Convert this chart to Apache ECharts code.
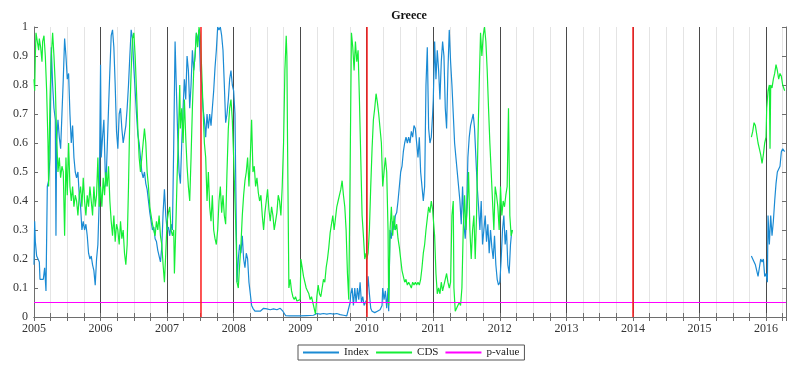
<!DOCTYPE html>
<html>
<head>
<meta charset="utf-8">
<script src="https://cdn.jsdelivr.net/npm/echarts@6/dist/echarts.min.js"></script>
<style>
  html, body { margin: 0; padding: 0; background: #fff; }
  #chart { width: 787px; height: 370px; }
</style>
</head>
<body>
<div id="chart"></div>
<script>
// ---- chart text ----
const chartTitle = 'Greece';
const seriesNames = ['Index', 'CDS', 'p-value'];

// ---- reference levels ----
const pValueLevel = 0.05;
const eventYears = [2007.5, 2010, 2014];
const xStart = 2005;
const xEnd = 2016.3;

// ---- Index p-values, [decimal year, value] ----
const index2005 = [[2005.00,0.18],[2005.01,0.33],[2005.02,0.26],[2005.04,0.21],[2005.06,0.2],[2005.08,0.19],[2005.09,0.13],[2005.12,0.13],[2005.14,0.13],[2005.16,0.17],[2005.18,0.09],[2005.20,0.45],[2005.22,0.47],[2005.24,0.55],[2005.26,0.93],[2005.28,0.8],[2005.30,0.72],[2005.32,0.68],[2005.33,0.28],[2005.34,0.6],[2005.36,0.68],[2005.38,0.62],[2005.40,0.58],[2005.42,0.7],[2005.44,0.82],[2005.46,0.96],[2005.48,0.9],[2005.50,0.82],[2005.52,0.84],[2005.54,0.7],[2005.56,0.6],[2005.58,0.66],[2005.60,0.55],[2005.62,0.5],[2005.64,0.48],[2005.66,0.5],[2005.68,0.42],[2005.70,0.38],[2005.72,0.3],[2005.74,0.33],[2005.76,0.3],[2005.78,0.32],[2005.80,0.28],[2005.82,0.22],[2005.84,0.2],[2005.86,0.21],[2005.88,0.18],[2005.90,0.16],[2005.92,0.11],[2005.94,0.2],[2005.96,0.25],[2005.98,0.4]];
const index2006 = [[2006.00,0.87],[2006.01,0.55],[2006.03,0.62],[2006.05,0.68],[2006.07,0.5],[2006.08,0.45],[2006.10,0.58],[2006.12,0.72],[2006.14,0.85],[2006.16,0.97],[2006.18,0.99],[2006.20,0.93],[2006.22,0.8],[2006.24,0.64],[2006.26,0.58],[2006.28,0.7],[2006.30,0.72],[2006.32,0.65],[2006.34,0.6],[2006.36,0.6],[2006.38,0.66],[2006.40,0.72],[2006.42,0.8],[2006.44,0.9],[2006.46,0.99],[2006.48,0.96],[2006.50,0.86],[2006.52,0.78],[2006.54,0.7],[2006.56,0.63],[2006.58,0.6],[2006.60,0.55],[2006.62,0.5],[2006.64,0.48],[2006.66,0.5],[2006.68,0.46],[2006.70,0.44],[2006.72,0.4],[2006.74,0.36],[2006.76,0.33],[2006.78,0.3],[2006.80,0.31],[2006.82,0.27],[2006.84,0.26],[2006.86,0.23],[2006.88,0.21],[2006.90,0.19],[2006.92,0.24],[2006.94,0.36],[2006.96,0.44],[2006.98,0.35]];
const index2007 = [[2007.00,0.3],[2007.02,0.31],[2007.04,0.28],[2007.06,0.32],[2007.08,0.3],[2007.10,0.6],[2007.12,0.95],[2007.14,0.78],[2007.16,0.62],[2007.18,0.5],[2007.20,0.46],[2007.22,0.6],[2007.24,0.72],[2007.26,0.82],[2007.28,0.75],[2007.30,0.9],[2007.32,0.85],[2007.34,0.72],[2007.36,0.8],[2007.38,0.92],[2007.40,0.85],[2007.42,0.9],[2007.44,0.98],[2007.46,0.95],[2007.48,0.99],[2007.50,0.85],[2007.52,0.8],[2007.54,0.72],[2007.56,0.68],[2007.58,0.62],[2007.60,0.7],[2007.62,0.65],[2007.64,0.7],[2007.66,0.66],[2007.68,0.72],[2007.70,0.78],[2007.72,0.86],[2007.74,0.92],[2007.76,1.0],[2007.78,0.99],[2007.80,1.0],[2007.82,0.97],[2007.84,0.92],[2007.86,0.8],[2007.88,0.67],[2007.90,0.7],[2007.92,0.75],[2007.94,0.82],[2007.96,0.85],[2007.98,0.8]];
const index2008 = [[2008.00,0.78],[2008.02,0.7],[2008.03,0.5],[2008.05,0.12],[2008.07,0.2],[2008.09,0.25],[2008.11,0.22],[2008.13,0.28],[2008.15,0.2],[2008.17,0.17],[2008.19,0.22],[2008.21,0.2],[2008.23,0.12],[2008.25,0.08],[2008.27,0.04],[2008.29,0.03],[2008.32,0.02],[2008.35,0.025],[2008.40,0.02],[2008.45,0.03],[2008.50,0.028],[2008.55,0.025],[2008.60,0.028],[2008.65,0.025],[2008.70,0.03],[2008.74,0.02],[2008.78,0.005],[2008.85,0.004],[2008.92,0.004]];
const index2009 = [[2009.00,0.004],[2009.10,0.005],[2009.20,0.006],[2009.25,0.012],[2009.30,0.01],[2009.35,0.012],[2009.40,0.01],[2009.45,0.012],[2009.50,0.01],[2009.55,0.012],[2009.60,0.008],[2009.65,0.006],[2009.70,0.004],[2009.73,0.003],[2009.75,0.05],[2009.76,0.08],[2009.78,0.1],[2009.80,0.04],[2009.82,0.1],[2009.84,0.05],[2009.86,0.1],[2009.88,0.06],[2009.90,0.12],[2009.92,0.05],[2009.94,0.07],[2009.96,0.04],[2009.98,0.05]];
const index2010 = [[2010.00,0.06],[2010.02,0.14],[2010.04,0.08],[2010.06,0.03],[2010.08,0.02],[2010.12,0.015],[2010.16,0.02],[2010.20,0.025],[2010.23,0.04],[2010.24,0.1],[2010.26,0.06],[2010.28,0.09],[2010.30,0.03],[2010.32,0.1],[2010.33,0.02],[2010.35,0.3],[2010.37,0.27],[2010.39,0.33],[2010.41,0.3],[2010.43,0.35],[2010.45,0.36],[2010.47,0.4],[2010.49,0.45],[2010.51,0.5],[2010.53,0.52],[2010.55,0.57],[2010.57,0.6],[2010.59,0.62],[2010.61,0.6],[2010.63,0.62],[2010.65,0.6],[2010.67,0.64],[2010.69,0.62],[2010.71,0.66],[2010.73,0.65],[2010.75,0.6],[2010.77,0.55],[2010.79,0.62],[2010.81,0.5],[2010.83,0.45],[2010.85,0.4],[2010.87,0.45],[2010.89,0.8],[2010.91,0.93],[2010.93,0.65],[2010.95,0.6],[2010.97,0.62],[2010.99,0.7]];
const index2011 = [[2011.00,0.75],[2011.02,0.95],[2011.04,0.82],[2011.06,0.92],[2011.08,0.85],[2011.10,0.75],[2011.12,0.88],[2011.14,0.95],[2011.16,0.9],[2011.18,0.72],[2011.20,0.65],[2011.22,0.85],[2011.24,0.99],[2011.26,0.88],[2011.28,0.8],[2011.30,0.7],[2011.32,0.6],[2011.34,0.55],[2011.36,0.5],[2011.38,0.45],[2011.40,0.4],[2011.42,0.32],[2011.44,0.45],[2011.46,0.32],[2011.48,0.27],[2011.50,0.35],[2011.52,0.55],[2011.54,0.62],[2011.56,0.66],[2011.58,0.68],[2011.60,0.7],[2011.62,0.65],[2011.64,0.55],[2011.66,0.45],[2011.68,0.38],[2011.70,0.3],[2011.72,0.4],[2011.74,0.25],[2011.76,0.3],[2011.78,0.35],[2011.80,0.26],[2011.82,0.32],[2011.84,0.22],[2011.86,0.3],[2011.88,0.24],[2011.90,0.2],[2011.92,0.28],[2011.94,0.18],[2011.96,0.13],[2011.98,0.11]];
const index2012 = [[2012.00,0.12],[2012.02,0.2],[2012.04,0.3],[2012.06,0.35],[2012.08,0.25],[2012.10,0.3],[2012.12,0.18],[2012.14,0.15],[2012.16,0.25],[2012.18,0.3]];
const index2016 = [[2015.78,0.21],[2015.80,0.2],[2015.82,0.2],[2015.84,0.18],[2015.86,0.16],[2015.88,0.14],[2015.90,0.14],[2015.92,0.2],[2015.94,0.19],[2015.96,0.2],[2015.98,0.14],[2016.00,0.15],[2016.02,0.12],[2016.03,0.35],[2016.05,0.25],[2016.07,0.35],[2016.09,0.28],[2016.11,0.33],[2016.13,0.4],[2016.15,0.46],[2016.17,0.5],[2016.19,0.5],[2016.21,0.52],[2016.23,0.57],[2016.25,0.58],[2016.28,0.57]];

// ---- CDS p-values, [decimal year, value] ----
const cds2005 = [[2005.00,0.82],[2005.01,0.78],[2005.02,0.9],[2005.03,0.98],[2005.05,0.95],[2005.07,0.92],[2005.08,0.96],[2005.10,0.93],[2005.12,0.88],[2005.13,0.95],[2005.15,0.97],[2005.17,0.9],[2005.19,0.78],[2005.21,0.6],[2005.22,0.45],[2005.24,0.75],[2005.26,0.9],[2005.28,0.98],[2005.30,0.9],[2005.32,0.8],[2005.34,0.62],[2005.36,0.5],[2005.38,0.55],[2005.40,0.48],[2005.42,0.52],[2005.44,0.5],[2005.46,0.28],[2005.48,0.55],[2005.50,0.42],[2005.52,0.6],[2005.54,0.45],[2005.56,0.4],[2005.58,0.45],[2005.60,0.38],[2005.62,0.42],[2005.64,0.4],[2005.66,0.35],[2005.68,0.42],[2005.70,0.45],[2005.72,0.38],[2005.74,0.48],[2005.76,0.4],[2005.78,0.35],[2005.80,0.42],[2005.82,0.38],[2005.84,0.45],[2005.86,0.4],[2005.88,0.35],[2005.90,0.45],[2005.92,0.38],[2005.94,0.42],[2005.96,0.55],[2005.98,0.38]];
const cds2006 = [[2006.00,0.45],[2006.02,0.38],[2006.04,0.48],[2006.06,0.42],[2006.08,0.5],[2006.10,0.45],[2006.12,0.52],[2006.14,0.4],[2006.16,0.33],[2006.18,0.28],[2006.20,0.35],[2006.22,0.26],[2006.24,0.32],[2006.26,0.3],[2006.28,0.25],[2006.30,0.33],[2006.32,0.27],[2006.34,0.3],[2006.36,0.22],[2006.38,0.18],[2006.40,0.25],[2006.42,0.45],[2006.44,0.7],[2006.46,0.85],[2006.48,0.96],[2006.50,0.98],[2006.52,0.9],[2006.54,0.78],[2006.56,0.65],[2006.58,0.55],[2006.60,0.5],[2006.62,0.55],[2006.64,0.6],[2006.66,0.65],[2006.68,0.6],[2006.70,0.5],[2006.72,0.45],[2006.74,0.38],[2006.76,0.35],[2006.78,0.32],[2006.80,0.3],[2006.82,0.28],[2006.84,0.33],[2006.86,0.3],[2006.88,0.35],[2006.90,0.28],[2006.92,0.25],[2006.94,0.18],[2006.96,0.12],[2006.98,0.22]];
const cds2007 = [[2007.00,0.33],[2007.02,0.36],[2007.04,0.38],[2007.06,0.3],[2007.08,0.28],[2007.10,0.3],[2007.11,0.15],[2007.13,0.3],[2007.15,0.48],[2007.17,0.62],[2007.19,0.8],[2007.20,0.65],[2007.22,0.72],[2007.24,0.6],[2007.26,0.75],[2007.28,0.62],[2007.30,0.52],[2007.32,0.45],[2007.34,0.4],[2007.36,0.55],[2007.38,0.72],[2007.40,0.85],[2007.42,0.9],[2007.44,0.98],[2007.46,0.93],[2007.48,1.0],[2007.50,0.97],[2007.52,0.85],[2007.54,0.72],[2007.56,0.6],[2007.58,0.55],[2007.60,0.4],[2007.62,0.5],[2007.64,0.38],[2007.66,0.33],[2007.68,0.42],[2007.70,0.3],[2007.72,0.27],[2007.74,0.25],[2007.76,0.3],[2007.78,0.4],[2007.80,0.45],[2007.82,0.36],[2007.84,0.42],[2007.86,0.35],[2007.88,0.32],[2007.90,0.5],[2007.92,0.65],[2007.94,0.72],[2007.96,0.75],[2007.98,0.68]];
const cds2008 = [[2008.00,0.55],[2008.02,0.4],[2008.04,0.25],[2008.05,0.12],[2008.07,0.1],[2008.09,0.18],[2008.11,0.25],[2008.13,0.35],[2008.15,0.42],[2008.17,0.47],[2008.19,0.5],[2008.21,0.55],[2008.23,0.45],[2008.25,0.55],[2008.27,0.68],[2008.29,0.5],[2008.31,0.52],[2008.33,0.45],[2008.35,0.48],[2008.37,0.43],[2008.39,0.4],[2008.41,0.42],[2008.43,0.35],[2008.45,0.3],[2008.47,0.36],[2008.49,0.4],[2008.51,0.44],[2008.53,0.37],[2008.55,0.33],[2008.57,0.38],[2008.59,0.35],[2008.61,0.3],[2008.63,0.33],[2008.65,0.36],[2008.67,0.42],[2008.69,0.4],[2008.71,0.35],[2008.73,0.45],[2008.75,0.6],[2008.77,0.85],[2008.79,0.97],[2008.80,0.9],[2008.81,0.6],[2008.83,0.1],[2008.85,0.13],[2008.87,0.09],[2008.89,0.07],[2008.91,0.06],[2008.93,0.07],[2008.95,0.055],[2008.97,0.06]];
const cds2009 = [[2009.00,0.06],[2009.01,0.2],[2009.03,0.17],[2009.05,0.14],[2009.07,0.12],[2009.09,0.1],[2009.11,0.09],[2009.13,0.08],[2009.15,0.06],[2009.17,0.07],[2009.19,0.05],[2009.21,0.03],[2009.23,0.01],[2009.25,0.07],[2009.27,0.11],[2009.29,0.08],[2009.31,0.07],[2009.33,0.1],[2009.35,0.13],[2009.37,0.12],[2009.39,0.17],[2009.41,0.2],[2009.43,0.24],[2009.45,0.29],[2009.47,0.32],[2009.49,0.35],[2009.51,0.3],[2009.53,0.34],[2009.55,0.38],[2009.57,0.4],[2009.59,0.42],[2009.61,0.44],[2009.63,0.47],[2009.65,0.42],[2009.67,0.38],[2009.69,0.3],[2009.71,0.15],[2009.73,0.06],[2009.75,0.5],[2009.77,0.98],[2009.79,0.93],[2009.81,0.85],[2009.83,0.95],[2009.85,0.88],[2009.87,0.92],[2009.89,0.75],[2009.91,0.55],[2009.93,0.35],[2009.95,0.28],[2009.97,0.2],[2009.99,0.22]];
const cds2010 = [[2010.00,0.2],[2010.02,0.22],[2010.04,0.3],[2010.06,0.45],[2010.08,0.58],[2010.10,0.68],[2010.12,0.72],[2010.14,0.77],[2010.16,0.74],[2010.18,0.7],[2010.20,0.65],[2010.22,0.6],[2010.24,0.45],[2010.26,0.5],[2010.28,0.55],[2010.30,0.5],[2010.32,0.3],[2010.33,0.04],[2010.35,0.3],[2010.37,0.38],[2010.39,0.28],[2010.41,0.35],[2010.43,0.3],[2010.45,0.32],[2010.47,0.27],[2010.49,0.24],[2010.51,0.2],[2010.53,0.16],[2010.55,0.14],[2010.57,0.12],[2010.59,0.13],[2010.61,0.11],[2010.63,0.12],[2010.65,0.11],[2010.67,0.1],[2010.69,0.12],[2010.71,0.11],[2010.73,0.12],[2010.75,0.11],[2010.77,0.12],[2010.79,0.11],[2010.81,0.13],[2010.83,0.17],[2010.85,0.22],[2010.87,0.25],[2010.89,0.3],[2010.91,0.34],[2010.93,0.38],[2010.95,0.36],[2010.97,0.4],[2010.99,0.37]];
const cds2011 = [[2011.00,0.37],[2011.02,0.28],[2011.04,0.15],[2011.06,0.08],[2011.08,0.1],[2011.10,0.08],[2011.12,0.12],[2011.14,0.09],[2011.16,0.11],[2011.18,0.13],[2011.20,0.15],[2011.22,0.12],[2011.24,0.1],[2011.26,0.12],[2011.28,0.35],[2011.30,0.4],[2011.31,0.1],[2011.33,0.02],[2011.35,0.03],[2011.37,0.025],[2011.39,0.05],[2011.41,0.04],[2011.43,0.1],[2011.45,0.3],[2011.47,0.42],[2011.49,0.3],[2011.51,0.38],[2011.53,0.5],[2011.55,0.3],[2011.57,0.2],[2011.59,0.3],[2011.61,0.35],[2011.63,0.2],[2011.65,0.35],[2011.67,0.6],[2011.69,0.8],[2011.71,0.98],[2011.73,0.9],[2011.75,0.97],[2011.77,1.0],[2011.79,0.95],[2011.81,0.85],[2011.83,0.72],[2011.85,0.6],[2011.87,0.5],[2011.89,0.4],[2011.91,0.3],[2011.93,0.45],[2011.95,0.42],[2011.97,0.38],[2011.99,0.3]];
const cds2012 = [[2012.01,0.45],[2012.03,0.35],[2012.05,0.4],[2012.07,0.38],[2012.09,0.42],[2012.11,0.45],[2012.13,0.72],[2012.15,0.35],[2012.17,0.28],[2012.19,0.3]];
const cds2016 = [[2015.78,0.62],[2015.80,0.64],[2015.82,0.67],[2015.84,0.66],[2015.86,0.63],[2015.88,0.6],[2015.90,0.6],[2015.92,0.56],[2015.94,0.53],[2015.96,0.56],[2015.98,0.6],[2016.00,0.62],[2016.01,0.72],[2016.03,0.78],[2016.05,0.8],[2016.06,0.58],[2016.07,0.8],[2016.09,0.79],[2016.11,0.82],[2016.13,0.84],[2016.15,0.87],[2016.17,0.85],[2016.19,0.82],[2016.21,0.84],[2016.23,0.83],[2016.25,0.8],[2016.28,0.78]];

// a null point breaks the lines across the missing 2012-2015 stretch
const dataGap = [[2014, null]];
const indexData = [].concat(index2005, index2006, index2007, index2008, index2009,
  index2010, index2011, index2012, dataGap, index2016);
const cdsData = [].concat(cds2005, cds2006, cds2007, cds2008, cds2009,
  cds2010, cds2011, cds2012, dataGap, cds2016);
const pValueData = [[xStart, pValueLevel], [xEnd, pValueLevel]];

const serif = 'Liberation Serif, Times New Roman, serif';
const frameColor = '#6e6e6e';
const tickStyle = { show: true, inside: true, length: 4, lineStyle: { color: frameColor } };

const chart = echarts.init(document.getElementById('chart'), null, { renderer: 'canvas' });
chart.setOption({
  animation: false,
  backgroundColor: '#fff',
  title: {
    text: chartTitle,
    left: 409, top: 10, padding: 0,
    textAlign: 'center',
    textStyle: { fontFamily: serif, fontSize: 12, fontWeight: 'bold', color: '#111' }
  },
  legend: {
    data: seriesNames,
    left: 298, top: 345,
    icon: 'rect', itemWidth: 36, itemHeight: 2, itemGap: 7,
    padding: [2, 5],
    borderColor: '#555', borderWidth: 1,
    textStyle: { fontFamily: serif, fontSize: 11, color: '#222' }
  },
  grid: { left: 34, right: 1, top: 27, bottom: 53, containLabel: false },
  xAxis: [{
    type: 'value', min: xStart, max: xEnd, interval: 0.25,
    axisLine: { show: true, lineStyle: { color: frameColor } },
    axisTick: tickStyle,
    axisLabel: {
      show: true, margin: 6, fontFamily: serif, fontSize: 12, color: '#333',
      showMaxLabel: false,
      formatter: v => (Math.abs(v - Math.round(v)) < 1e-6 ? String(Math.round(v)) : '')
    },
    splitLine: {
      show: true,
      lineStyle: { color: ['#4a4a4a', '#e4e4e4', '#e4e4e4', '#e4e4e4'], width: 1 }
    }
  }, {
    type: 'value', position: 'top', min: xStart, max: xEnd, interval: 0.25,
    axisLine: { show: true, lineStyle: { color: frameColor } },
    axisTick: tickStyle,
    axisLabel: { show: false },
    splitLine: { show: false }
  }],
  yAxis: [{
    type: 'value', min: 0, max: 1, interval: 0.1,
    axisLine: { show: true, lineStyle: { color: frameColor } },
    axisTick: tickStyle,
    axisLabel: {
      margin: 6, fontFamily: serif, fontSize: 12, color: '#333',
      formatter: v => String(Math.round(v * 10) / 10)
    },
    splitLine: { show: false }
  }, {
    type: 'value', position: 'right', min: 0, max: 1, interval: 0.1,
    axisLine: { show: true, lineStyle: { color: frameColor } },
    axisTick: tickStyle,
    axisLabel: { show: false },
    splitLine: { show: false }
  }],
  series: [{
    name: seriesNames[0], type: 'line', data: indexData,
    showSymbol: false, symbol: 'none', connectNulls: false,
    lineStyle: { color: '#1b8bd4', width: 1.2 },
    itemStyle: { color: '#1b8bd4' }
  }, {
    name: seriesNames[1], type: 'line', data: cdsData,
    showSymbol: false, symbol: 'none', connectNulls: false,
    lineStyle: { color: '#14ee36', width: 1.2 },
    itemStyle: { color: '#14ee36' }
  }, {
    name: seriesNames[2], type: 'line', data: pValueData,
    showSymbol: false, symbol: 'none',
    lineStyle: { color: '#ff00ff', width: 1 },
    itemStyle: { color: '#ff00ff' },
    markLine: {
      silent: true, symbol: ['none', 'none'],
      label: { show: false },
      lineStyle: { color: '#ff2020', width: 1.5, type: 'solid' },
      data: eventYears.map(y => ({ xAxis: y }))
    }
  }]
});
</script>
</body>
</html>
